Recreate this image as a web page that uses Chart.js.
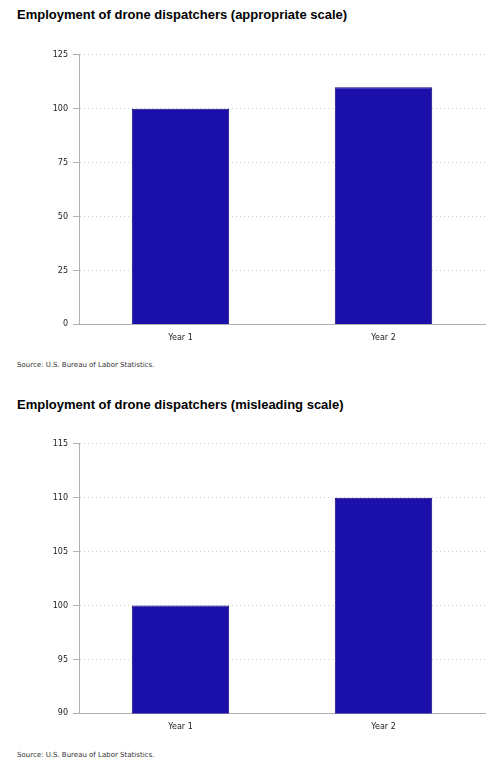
<!DOCTYPE html>
<html>
<head>
<meta charset="utf-8">
<script src="https://cdn.jsdelivr.net/npm/chart.js@4"></script>
<style>
 body { margin: 0; width: 496px; height: 770px; background: #fff; position: relative; font-family: "Liberation Sans", Arial, sans-serif; }
 .title { position: absolute; left: 17px; font-weight: bold; font-size: 13px; color: #000; }
 .source { position: absolute; left: 17px; font-family: "DejaVu Sans", sans-serif; font-size: 7px; color: #333; }
 .box { position: absolute; left: 0; width: 496px; }
</style>
</head>
<body>
<div class="title" style="top:7px">Employment of drone dispatchers (appropriate scale)</div>
<div class="box" style="top:45px;height:302px"><canvas id="chart1"></canvas></div>
<div class="source" style="top:361px">Source: U.S. Bureau of Labor Statistics.</div>
<div class="title" style="top:397px">Employment of drone dispatchers (misleading scale)</div>
<div class="box" style="top:434px;height:302px"><canvas id="chart2"></canvas></div>
<div class="source" style="top:751px">Source: U.S. Bureau of Labor Statistics.</div>
<script>
var categories = ["Year 1", "Year 2"];
var employment = [100, 110];
var appropriateTicks = [0, 25, 50, 75, 100, 125];
var misleadingTicks = [90, 95, 100, 105, 110, 115];

var barColor = "#1a0fa8";
var axisColor = "#b0b0b0";

function drawChart(canvasId, ticks) {
 var step = ticks[1] - ticks[0];
 new Chart(document.getElementById(canvasId), {
  type: "bar",
  data: {
   labels: categories,
   datasets: [
    {
     label: "Employment",
     data: employment,
     backgroundColor: barColor,
     borderColor: "#12087a",
     borderWidth: 1,
     categoryPercentage: 0.96,
     barPercentage: 0.5,
    },
   ],
  },
  options: {
   responsive: true,
   maintainAspectRatio: false,
   animation: false,
   layout: { padding: { top: 9, right: 11, left: 0, bottom: 0 } },
   plugins: { legend: { display: false }, tooltip: { enabled: false } },
   scales: {
    x: {
     grid: { display: false, drawOnChartArea: false, tickLength: 5, color: axisColor },
     border: { display: true, color: axisColor, width: 1 },
     ticks: {
      color: "#222",
      font: { family: "DejaVu Sans", size: 8 },
      padding: 4,
     },
    },
    y: {
     min: ticks[0],
     max: ticks[ticks.length - 1],
     afterFit: function (axis) {
      axis.width = 79;
     },
     afterBuildTicks: function (axis) {
      axis.ticks = ticks.map(function (v) {
       return { value: v };
      });
     },
     grid: {
      color: "#cfcfcf",
      tickColor: axisColor,
      tickLength: 6,
      tickBorderDash: [],
     },
     border: { display: true, color: axisColor, width: 1, dash: [1, 3] },
     ticks: {
      stepSize: step,
      color: "#222",
      font: { family: "DejaVu Sans", size: 8 },
      padding: 5,
     },
    },
   },
  },
  plugins: [
   {
    id: "solidAxis",
    afterDraw: function (chart) {
     var c = chart.ctx, a = chart.chartArea;
     c.save();
     c.strokeStyle = axisColor;
     c.lineWidth = 1;
     c.setLineDash([]);
     c.beginPath();
     c.moveTo(a.left + 0.5, a.top);
     c.lineTo(a.left + 0.5, a.bottom);
     c.stroke();
     c.restore();
    },
   },
  ],
 });
}

Chart.defaults.elements.line.borderDash = [];
drawChart("chart1", appropriateTicks);
drawChart("chart2", misleadingTicks);
</script>
</body>
</html>
